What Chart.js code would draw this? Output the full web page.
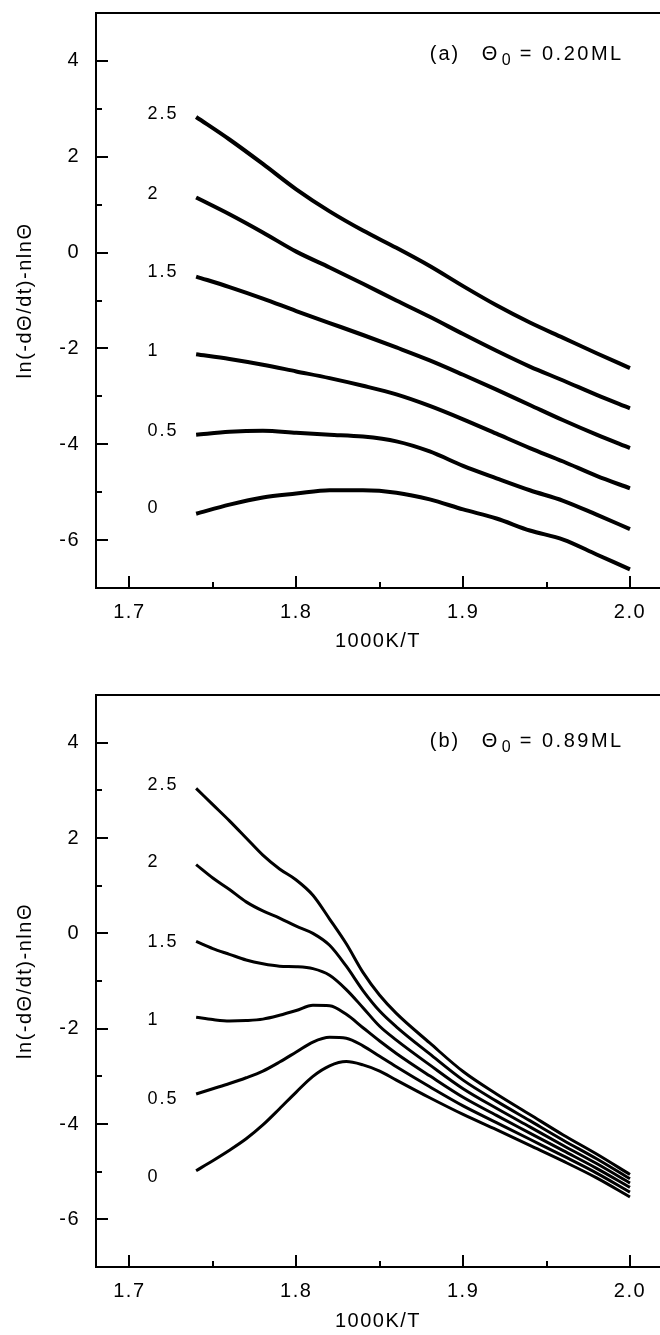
<!DOCTYPE html>
<html>
<head>
<meta charset="utf-8">
<script src="https://cdn.jsdelivr.net/npm/chart.js@4.4.1/dist/chart.umd.min.js"></script>
<style>
html, body { margin: 0; padding: 0; background: #fff; }
#wrap { position: relative; width: 660px; height: 1335px; }
canvas { position: absolute; left: 0; }
</style>
</head>
<body>
<div id="wrap">
  <canvas id="chartA" width="660" height="660" style="top:0"></canvas>
  <canvas id="chartB" width="660" height="675" style="top:660px"></canvas>
</div>
<script>
// curve labels (n)
var seriesNames = ['0', '0.5', '1', '1.5', '2', '2.5'];

// tick labels
var xMajor = [1.7, 1.8, 1.9, 2.0];
var xMinor = [1.75, 1.85, 1.95];
var yMajor = [-6, -4, -2, 0, 2, 4];
var yMinor = [-5, -3, -1, 1, 3];

// panel (a), theta0 = 0.20 ML
var xA = [1.74, 1.76, 1.78, 1.80, 1.82, 1.84, 1.86, 1.88, 1.90, 1.92, 1.94, 1.96, 1.98, 2.00];
var aN0  = [-5.45, -5.26, -5.11, -5.03, -4.96, -4.96, -5.01, -5.15, -5.36, -5.55, -5.80, -5.99, -6.30, -6.61];
var aN05 = [-3.80, -3.74, -3.72, -3.76, -3.80, -3.84, -3.94, -4.15, -4.45, -4.71, -4.96, -5.18, -5.47, -5.77];
var aN1  = [-2.12, -2.22, -2.34, -2.48, -2.62, -2.78, -2.96, -3.20, -3.48, -3.78, -4.08, -4.36, -4.66, -4.92];
var aN15 = [-0.50, -0.72, -0.96, -1.22, -1.47, -1.72, -1.98, -2.25, -2.55, -2.86, -3.18, -3.50, -3.80, -4.08];
var aN2  = [1.15, 0.80, 0.42, 0.02, -0.31, -0.65, -1.00, -1.34, -1.70, -2.05, -2.38, -2.67, -2.97, -3.25];
var aN25 = [2.83, 2.36, 1.85, 1.32, 0.86, 0.46, 0.10, -0.28, -0.70, -1.10, -1.46, -1.78, -2.10, -2.41];
var labelYA = [-5.34, -3.73, -2.05, -0.41, 1.22, 2.89];

// panel (b), theta0 = 0.89 ML
var xB = [1.74, 1.75, 1.76, 1.77, 1.78, 1.79, 1.80, 1.81, 1.82, 1.83, 1.84, 1.85, 1.86, 1.88, 1.90, 1.92, 1.94, 1.96, 1.98, 2.00];
var bN0  = [-4.98, -4.77, -4.55, -4.31, -4.02, -3.68, -3.33, -3.00, -2.78, -2.69, -2.76, -2.89, -3.08, -3.45, -3.80, -4.12, -4.45, -4.78, -5.13, -5.53];
var bN05 = [-3.37, -3.26, -3.15, -3.03, -2.89, -2.70, -2.49, -2.28, -2.18, -2.20, -2.36, -2.58, -2.80, -3.22, -3.62, -3.97, -4.32, -4.67, -5.03, -5.43];
var bN1  = [-1.76, -1.81, -1.84, -1.83, -1.80, -1.72, -1.62, -1.51, -1.52, -1.70, -1.98, -2.26, -2.52, -2.99, -3.44, -3.82, -4.19, -4.56, -4.93, -5.33];
var bN15 = [-0.17, -0.32, -0.44, -0.56, -0.64, -0.69, -0.70, -0.74, -0.88, -1.18, -1.56, -1.95, -2.24, -2.76, -3.26, -3.67, -4.06, -4.45, -4.83, -5.24];
var bN2  = [1.44, 1.16, 0.92, 0.66, 0.47, 0.32, 0.15, 0.00, -0.25, -0.69, -1.20, -1.63, -1.96, -2.53, -3.08, -3.52, -3.93, -4.34, -4.73, -5.15];
var bN25 = [3.04, 2.70, 2.36, 2.00, 1.64, 1.35, 1.12, 0.80, 0.30, -0.22, -0.82, -1.30, -1.68, -2.30, -2.90, -3.37, -3.80, -4.23, -4.63, -5.06];
var labelYB = [-5.11, -3.48, -1.82, -0.19, 1.49, 3.12];

var FONT = '"Liberation Sans", Arial, sans-serif';
Chart.defaults.font.family = FONT;
Chart.defaults.font.size = 20;
Chart.defaults.color = '#000';

function toPoints(xs, ys) {
    return xs.map(function(x, i) { return {x: x, y: ys[i]}; });
}

// frame, inward ticks, curve labels and panel caption
var decor = {
    id: 'decor',
    beforeDraw: function(chart) {
        chart.ctx.letterSpacing = '1.5px';
    },
    afterDraw: function(chart) {
        var ctx = chart.ctx, a = chart.chartArea;
        var xs = chart.scales.x, ys = chart.scales.y;
        var o = chart.options.plugins.decor;
        ctx.save();
        ctx.strokeStyle = '#000';
        ctx.lineWidth = 2;
        ctx.beginPath();
        ctx.moveTo(a.right, a.top);
        ctx.lineTo(a.left, a.top);
        ctx.lineTo(a.left, a.bottom);
        ctx.lineTo(a.right, a.bottom);
        xMajor.forEach(function(v) {
            var p = Math.round(xs.getPixelForValue(v));
            ctx.moveTo(p, a.bottom); ctx.lineTo(p, a.bottom - 12);
        });
        xMinor.forEach(function(v) {
            var p = Math.round(xs.getPixelForValue(v));
            ctx.moveTo(p, a.bottom); ctx.lineTo(p, a.bottom - 6);
        });
        yMajor.forEach(function(v) {
            var p = Math.round(ys.getPixelForValue(v));
            ctx.moveTo(a.left, p); ctx.lineTo(a.left + 12, p);
        });
        yMinor.forEach(function(v) {
            var p = Math.round(ys.getPixelForValue(v));
            ctx.moveTo(a.left, p); ctx.lineTo(a.left + 6, p);
        });
        ctx.stroke();

        ctx.fillStyle = '#000';
        ctx.textBaseline = 'middle';
        ctx.textAlign = 'left';
        ctx.font = '18px ' + FONT;
        ctx.letterSpacing = '2px';
        var lx = xs.getPixelForValue(1.7108);
        seriesNames.forEach(function(name, i) {
            ctx.fillText(name, lx, ys.getPixelForValue(o.labelY[i]));
        });

        // caption "(a)  Θ0 = 0.20ML"
        var cx = xs.getPixelForValue(1.88), cy = ys.getPixelForValue(o.captionY);
        ctx.textBaseline = 'alphabetic';
        ctx.font = '20px ' + FONT;
        ctx.letterSpacing = '2px';
        ctx.fillText(o.tag, cx, cy);
        ctx.letterSpacing = '0px';
        ctx.fillText('\u0398', cx + 52, cy);
        ctx.font = '16px ' + FONT;
        ctx.fillText('0', cx + 72, cy + 5);
        ctx.font = '20px ' + FONT;
        ctx.letterSpacing = '2.5px';
        ctx.fillText(o.value, cx + 90, cy);
        ctx.restore();
    }
};

function makeChart(id, xs, curves, labelY, tag, value, captionY, topPad, xHeight, titleBottom, width) {
    var datasets = curves.map(function(ys, i) {
        return {
            label: seriesNames[i],
            data: toPoints(xs, ys),
            borderColor: '#000',
            borderWidth: width,
            pointRadius: 0,
            fill: false,
            cubicInterpolationMode: 'monotone'
        };
    });
    return new Chart(document.getElementById(id), {
        type: 'line',
        data: {datasets: datasets},
        plugins: [decor],
        options: {
            responsive: false,
            animation: false,
            devicePixelRatio: 1,
            layout: {padding: {left: 0, right: 0, top: topPad, bottom: 0}},
            plugins: {
                legend: {display: false},
                tooltip: {enabled: false},
                decor: {labelY: labelY, tag: tag, value: value, captionY: captionY}
            },
            scales: {
                x: {
                    type: 'linear',
                    min: 1.68,
                    max: 2.018,
                    afterBuildTicks: function(s) { s.ticks = xMajor.map(function(v) { return {value: v}; }); },
                    afterFit: function(s) { s.height = xHeight; s.paddingLeft = 0; s.paddingRight = 0; },
                    grid: {display: false, drawTicks: false},
                    border: {display: false},
                    ticks: {
                        autoSkip: false, maxRotation: 0, padding: 12,
                        callback: function(v) { return Number(v).toFixed(1); }
                    },
                    title: {display: true, text: '1000K/T', padding: {top: 0, bottom: titleBottom}}
                },
                y: {
                    type: 'linear',
                    min: -7,
                    max: 5,
                    afterBuildTicks: function(s) { s.ticks = yMajor.map(function(v) { return {value: v}; }); },
                    afterFit: function(s) { s.width = 96; s.paddingTop = 0; s.paddingBottom = 0; },
                    grid: {display: false, drawTicks: false},
                    border: {display: false},
                    ticks: {
                        autoSkip: false, padding: 16,
                        callback: function(v) { return String(v); }
                    },
                    title: {display: true, text: 'ln(-d\u0398/dt)-nln\u0398', padding: {top: 13, bottom: 0}}
                }
            }
        }
    });
}

makeChart('chartA', xA, [aN0, aN05, aN1, aN15, aN2, aN25], labelYA,
    '(a)', '= 0.20ML', 4.02, 13, 72, 7, 4);
makeChart('chartB', xB, [bN0, bN05, bN1, bN15, bN2, bN25], labelYB,
    '(b)', '= 0.89ML', 3.90, 35, 68, 2, 3);
</script>
</body>
</html>
